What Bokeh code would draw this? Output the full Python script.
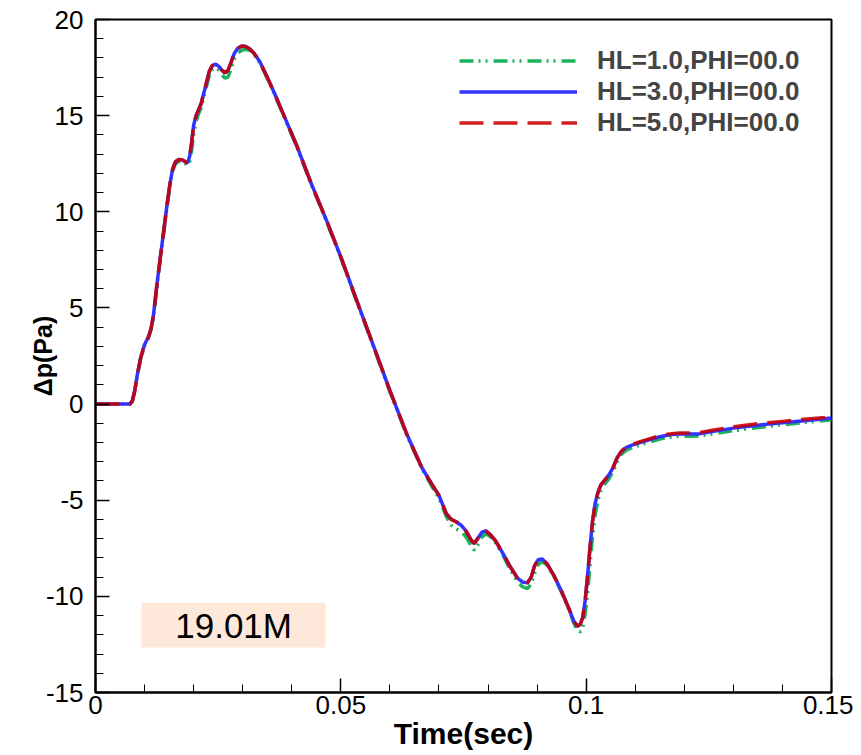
from bokeh.plotting import figure
from bokeh.models import Range1d, FixedTicker, NumeralTickFormatter, Legend, LegendItem, BoxAnnotation, Label
from bokeh.embed import file_html
from bokeh.resources import INLINE

T = [0.0, 0.0070, 0.0075, 0.0080, 0.0085, 0.0092, 0.0100, 0.0108, 0.0113, 0.0118,
     0.0122, 0.0127, 0.0132, 0.0139, 0.0146, 0.0152, 0.0157, 0.0163, 0.0170, 0.0177,
     0.0183, 0.0188, 0.0192, 0.0196, 0.0200, 0.0205, 0.0210, 0.0215, 0.0220, 0.0226,
     0.0232, 0.0238, 0.0245, 0.0252, 0.0258, 0.0264, 0.0270, 0.0276, 0.0283, 0.0290,
     0.0298, 0.0306, 0.0314, 0.0323, 0.0335, 0.0350, 0.0365, 0.0385, 0.0410, 0.0440,
     0.0470, 0.0500, 0.0530, 0.0567, 0.0600, 0.0635, 0.0665, 0.0685, 0.0700, 0.0715,
     0.0725, 0.0735, 0.0745, 0.0755, 0.0765, 0.0772, 0.0780, 0.0788, 0.0796, 0.0805,
     0.0815, 0.0830, 0.0845, 0.0860, 0.0870, 0.0880, 0.0888, 0.0895, 0.0902, 0.0910,
     0.0920, 0.0935, 0.0950, 0.0965, 0.0975, 0.0982, 0.0988, 0.0993, 0.0998, 0.1003,
     0.1008, 0.1013, 0.1018, 0.1024, 0.1030, 0.1038, 0.1046, 0.1055, 0.1063, 0.1072,
     0.1082, 0.1095, 0.1110, 0.1130, 0.1150, 0.1170, 0.1190, 0.1210, 0.1230, 0.1260,
     0.1300, 0.1350, 0.1400, 0.1450, 0.1500]

HL3 = [0, 0, 0.15, 0.7, 1.5, 2.4, 3.1, 3.5, 3.9, 4.6,
       5.5, 6.6, 7.6, 9.0, 10.4, 11.5, 12.2, 12.6, 12.72, 12.7,
       12.6, 12.55, 12.9, 13.6, 14.5, 15.0, 15.3, 15.6, 16.1, 16.7,
       17.3, 17.6, 17.68, 17.55, 17.35, 17.22, 17.35, 17.75, 18.25, 18.5,
       18.62, 18.6, 18.48, 18.25, 17.8, 17.0, 16.15, 14.95, 13.45, 11.45,
       9.6, 7.65, 5.55, 3.0, 0.7, -1.6, -3.3, -4.15, -4.75, -5.7,
       -6.0, -6.12, -6.3, -6.6, -7.05, -7.25, -6.95, -6.65, -6.6, -6.8,
       -7.1, -7.75, -8.45, -9.05, -9.25, -9.3, -9.0, -8.4, -8.1, -8.05,
       -8.3, -8.95, -9.75, -10.65, -11.3, -11.55, -11.45, -11.1, -10.2, -8.9,
       -7.4, -6.1, -5.2, -4.6, -4.2, -3.95, -3.7, -3.3, -2.8, -2.45,
       -2.25, -2.12, -2.0, -1.85, -1.7, -1.6, -1.55, -1.56, -1.55, -1.42,
       -1.25, -1.1, -0.97, -0.85, -0.73]

HL5 = [0, 0, 0.15, 0.7, 1.5, 2.4, 3.1, 3.5, 3.9, 4.6,
       5.5, 6.6, 7.6, 9.0, 10.4, 11.5, 12.2, 12.6, 12.72, 12.7,
       12.6, 12.55, 12.9, 13.6, 14.5, 15.0, 15.3, 15.6, 16.1, 16.7,
       17.3, 17.6, 17.68, 17.55, 17.35, 17.22, 17.35, 17.75, 18.25, 18.5,
       18.62, 18.6, 18.48, 18.25, 17.8, 17.0, 16.15, 14.95, 13.45, 11.45,
       9.6, 7.65, 5.55, 3.0, 0.7, -1.6, -3.3, -4.15, -4.75, -5.7,
       -6.0, -6.12, -6.3, -6.6, -7.05, -7.25, -6.95, -6.65, -6.6, -6.8,
       -7.1, -7.75, -8.45, -9.05, -9.25, -9.3, -9.0, -8.4, -8.1, -8.05,
       -8.3, -8.95, -9.75, -10.65, -11.3, -11.55, -11.45, -11.1, -10.2, -8.9,
       -7.4, -6.1, -5.2, -4.6, -4.2, -3.95, -3.7, -3.3, -2.8, -2.45,
       -2.22, -2.08, -1.95, -1.8, -1.65, -1.55, -1.5, -1.5, -1.48, -1.35,
       -1.18, -1.02, -0.9, -0.78, -0.67]

HL1 = [0, 0, 0.15, 0.65, 1.45, 2.35, 3.05, 3.45, 3.85, 4.5,
       5.35, 6.45, 7.5, 8.9, 10.3, 11.4, 12.1, 12.5, 12.62, 12.6,
       12.5, 12.42, 12.6, 13.2, 14.0, 14.7, 15.1, 15.4, 15.9, 16.5,
       17.1, 17.4, 17.5, 17.35, 17.1, 16.95, 17.0, 17.4, 17.95, 18.25,
       18.4, 18.45, 18.4, 18.2, 17.75, 16.95, 16.1, 14.9, 13.4, 11.4,
       9.55, 7.6, 5.5, 2.95, 0.65, -1.65, -3.35, -4.25, -4.9, -5.85,
       -6.3, -6.5, -6.6, -6.9, -7.35, -7.6, -7.3, -6.9, -6.75, -6.9,
       -7.2, -7.85, -8.6, -9.25, -9.5, -9.6, -9.35, -8.8, -8.35, -8.2,
       -8.35, -9.0, -9.8, -10.7, -11.4, -11.75, -11.85, -11.6, -10.9, -9.8,
       -8.3, -6.9, -5.8, -5.0, -4.5, -4.15, -3.9, -3.5, -3.0, -2.6,
       -2.4, -2.25, -2.12, -1.97, -1.82, -1.72, -1.67, -1.67, -1.66, -1.55,
       -1.38, -1.22, -1.08, -0.95, -0.82]

LABELS = ["HL=1.0,PHI=00.0", "HL=3.0,PHI=00.0", "HL=5.0,PHI=00.0"]
X_MAJOR = [0, 0.05, 0.1, 0.15]
X_MINOR = [0.01, 0.02, 0.03, 0.04, 0.06, 0.07, 0.08, 0.09, 0.11, 0.12, 0.13, 0.14]
Y_MAJOR = [-15, -10, -5, 0, 5, 10, 15, 20]
Y_MINOR = [v for v in range(-15, 21) if v % 5 != 0]
ANNOT = "19.01M"

FONT = "Liberation Sans"

p = figure(width=853, height=753, output_backend="svg", toolbar_location=None,
           x_range=Range1d(0, 0.15), y_range=Range1d(-15, 20),
           min_border_left=95, min_border_right=22, min_border_top=19, min_border_bottom=61)
p.xgrid.visible = False
p.ygrid.visible = False
p.outline_line_color = "black"
p.outline_line_width = 2
p.background_fill_color = "white"
p.border_fill_color = "white"

for ax in (p.xaxis[0], p.yaxis[0]):
    ax.axis_line_color = "black"
    ax.axis_line_width = 2
    ax.major_tick_in = 14
    ax.major_tick_out = 0
    ax.minor_tick_in = 8
    ax.minor_tick_out = 0
    ax.major_tick_line_width = 1.5
    ax.minor_tick_line_width = 1
    ax.major_label_text_font = FONT
    ax.major_label_text_font_size = "26px"
    ax.major_label_text_color = "black"
    ax.axis_label_text_font = FONT
    ax.axis_label_text_font_style = "bold"
    ax.axis_label_text_color = "black"

p.xaxis.ticker = FixedTicker(ticks=X_MAJOR, minor_ticks=X_MINOR)
p.yaxis.ticker = FixedTicker(ticks=Y_MAJOR, minor_ticks=Y_MINOR)
p.xaxis.formatter = NumeralTickFormatter(format="0.[00]")
p.yaxis.formatter = NumeralTickFormatter(format="0")
p.xaxis.major_label_standoff = 3
p.yaxis.major_label_standoff = 12
p.xaxis.axis_label = "Time(sec)"
p.yaxis.axis_label = "Δp(Pa)"
p.xaxis.axis_label_text_font_size = "30px"
p.yaxis.axis_label_text_font_size = "25px"
p.xaxis.axis_label_standoff = 0
p.yaxis.axis_label_standoff = -14

box = BoxAnnotation(left=0.0094, right=0.0469, bottom=-12.66, top=-10.33,
                    fill_color="#fde8da", fill_alpha=1.0, line_color=None, level="underlay")
p.add_layout(box)
p.add_layout(Label(x=(0.0094 + 0.0469) / 2, y=(-12.66 - 10.33) / 2, text=ANNOT,
                   text_align="center", text_baseline="middle",
                   text_font=FONT, text_font_size="35px", text_color="black"))

r1 = p.line(T, HL1, line_color="#1db35a", line_width=3.5, line_dash="14 5 2 5 2 6")
r3 = p.line(T, HL3, line_color="#3333ff", line_width=3.5)
r5 = p.line(T, HL5, line_color="#cc0000", line_width=3.5, line_dash="24 10", line_alpha=0.88)

legend = Legend(items=[LegendItem(label=LABELS[0], renderers=[r1]),
                       LegendItem(label=LABELS[1], renderers=[r3]),
                       LegendItem(label=LABELS[2], renderers=[r5])],
                location=(364, 554), margin=0, padding=0, spacing=0,
                glyph_width=118, glyph_height=31, label_height=31, label_standoff=20,
                label_text_font=FONT, label_text_font_size="26px", label_text_font_style="bold",
                border_line_color=None, background_fill_alpha=0)
p.add_layout(legend)

open("out.html", "w").write(file_html(p, INLINE))
